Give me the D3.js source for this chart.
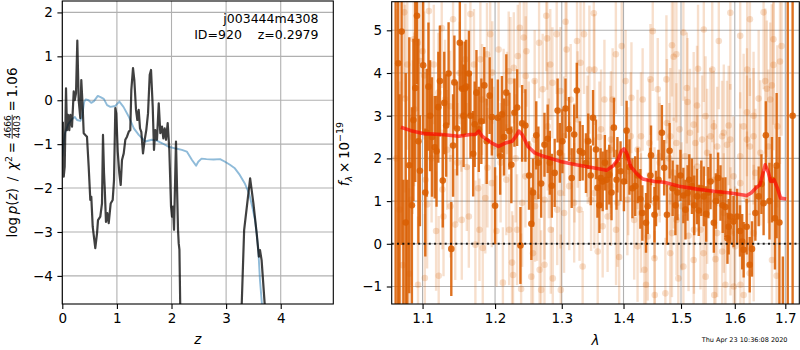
<!DOCTYPE html>
<html>
<head>
<meta charset="utf-8">
<script src="https://cdn.jsdelivr.net/npm/d3@7"></script>
<style>
  body { margin: 0; background: #fff; }
  text { font-family: "DejaVu Sans", sans-serif; fill: #000; }
</style>
</head>
<body>
<svg id="fig" width="800" height="350"></svg>
<script>
// ---------- redshift probability panel ----------
const zTicks = [0, 1, 2, 3, 4];
const lnpTicks = [-4, -3, -2, -1, 0, 1, 2];

// log p(z)
const pzZ = [0.010,0.026,0.044,0.068,0.086,0.104,0.128,0.147,0.178,0.209,
             0.227,0.251,0.275,0.300,0.330,0.348,0.373,0.392,0.421,0.452,
             0.483,0.513,0.531,0.557,0.586,0.604,0.636,0.654,0.696,0.727,
             0.745,0.764,0.776,0.800,0.824,0.850,0.886,0.923,0.947,0.971,
             0.989,1.015,1.044,1.070,1.093,1.125,1.154,1.185,1.216,1.245,
             1.264,1.295,1.319,1.350,1.374,1.399,1.423,1.447,1.478,1.509,
             1.538,1.570,1.601,1.625,1.656,1.679,1.703,1.734,1.766,1.795,
             1.826,1.850,1.875,1.899,1.930,1.960,1.991,2.009,2.027,2.046,
             2.082,2.101,2.119,2.132,2.145,2.160,2.180,3.260,3.286,3.330,
             3.380,3.440,3.500,3.560,3.600,3.620,3.650,3.710,3.750];
const pzVal = [-0.49,-1.74,-1.51,0.27,-0.68,-0.33,-0.68,-0.33,-0.60,0.20,
               0.00,0.16,1.36,0.00,-0.41,0.46,-0.15,-0.75,-0.79,-0.83,
               -1.51,-2.27,-2.20,-2.88,-3.18,-3.37,-3.03,-2.73,-2.65,-2.35,
               -0.79,-1.66,-1.97,-2.77,-2.57,-2.80,-2.35,-2.27,-1.82,-0.18,
               -0.30,-1.17,-1.66,-1.93,-1.36,-1.21,-0.90,-0.83,-0.72,-0.68,
               0.23,0.73,0.46,-0.22,-0.45,-0.22,-0.64,-0.72,-1.21,-0.90,
               -0.68,-0.30,0.58,0.69,-0.15,-1.13,-0.68,-0.90,-0.07,-0.75,
               -0.60,-0.87,-0.64,-0.90,-0.52,-1.13,-2.42,-2.65,-2.42,-2.95,
               -0.94,-1.97,-2.95,-3.26,-3.40,-4.70,-8.00,-8.00,-4.64,-2.96,
               -2.42,-1.78,-2.35,-3.03,-3.56,-3.41,-3.64,-4.70,-8.00];

// scaled chi-squared curve
const chiZ = [0.00,0.02,0.05,0.11,0.17,0.23,0.27,0.33,0.36,0.40,
              0.43,0.48,0.53,0.58,0.65,0.70,0.76,0.82,0.88,0.97,
              1.045,1.12,1.216,1.31,1.40,1.52,1.64,1.73,1.83,1.95,
              2.08,2.19,2.28,2.375,2.45,2.49,2.55,2.64,2.77,2.89,
              2.98,3.07,3.16,3.25,3.34,3.42,3.48,3.53,3.56,3.59,
              3.62,3.66,3.70];
const chiVal = [-1.28,-1.00,-0.75,-0.54,-0.44,-0.38,-0.45,-0.47,-0.38,-0.04,
                0.02,0.00,-0.06,-0.02,0.10,0.07,0.03,-0.11,-0.15,-0.13,
                -0.03,-0.15,-0.37,-0.64,-0.79,-0.94,-0.90,-0.92,-0.98,-1.06,
                -1.10,-1.13,-1.17,-1.36,-1.49,-1.40,-1.33,-1.34,-1.35,-1.34,
                -1.40,-1.47,-1.55,-1.70,-1.89,-2.12,-2.43,-2.73,-3.04,-3.42,
                -4.10,-4.70,-5.50];

// ---------- 1D spectrum panel ----------
const waveTicks = [1.1, 1.2, 1.3, 1.4, 1.5, 1.6, 1.7];
const fluxTicks = [-1, 0, 1, 2, 3, 4, 5];

// binned spectrum (wavelength in micron, flux x 1e-19, 1-sigma error)
const binWave = [1.0650,1.0683,1.0700,1.0727,1.0750,1.0780,1.0800,1.0826,1.0860,1.0880,
                 1.0904,1.0926,1.0945,1.0965,1.1008,1.1036,1.1055,1.1078,1.1100,1.1125,
                 1.1162,1.1186,1.1210,1.1232,1.1270,1.1290,1.1316,1.1349,1.1386,1.1410,
                 1.1428,1.1465,1.1503,1.1535,1.1555,1.1573,1.1591,1.1629,1.1651,1.1689,
                 1.1710,1.1735,1.1768,1.1804,1.1846,1.1880,1.1922,1.1954,1.2000,1.2040,
                 1.2074,1.2099,1.2130,1.2163,1.2208,1.2237,1.2282,1.2322,1.2371,1.2396,
                 1.2445,1.2500,1.2534,1.2559,1.2608,1.2640,1.2682,1.2733,1.2782,1.2815,
                 1.2846,1.2890,1.2935,1.2970,1.3010,1.3059,1.3114,1.3156,1.3195,1.3237,
                 1.3286,1.3330,1.3383,1.3420,1.3460,1.3497,1.3545,1.3569,1.3601,1.3620,
                 1.3654,1.3690,1.3719,1.3763,1.3800,1.3839,1.3883,1.3898,1.3950,1.4007,
                 1.4047,1.4052,1.4100,1.4150,1.4198,1.4240,1.4286,1.4320,1.4383,1.4413,
                 1.4460,1.4470,1.4530,1.4557,1.4600,1.4660,1.4700,1.4749,1.4796,1.4850,
                 1.4900,1.4936,1.4990,1.5043,1.5080,1.5118,1.5150,1.5198,1.5240,1.5291,
                 1.5323,1.5370,1.5416,1.5460,1.5500,1.5541,1.5603,1.5640,1.5683,1.5728,
                 1.5770,1.5821,1.5860,1.5883,1.5915,1.5976,1.6045,1.6100,1.6143,1.6171,
                 1.6230,1.6289,1.6334,1.6400,1.6465,1.6520,1.6563,1.6608,1.6680,1.6730,
                 1.6790,1.6824,1.6880,1.6950,1.7050,1.7150];
const binFlux = [-3.0,4.23,-2.5,4.97,-3.0,0.5,-2.0,1.84,0.9,2.9,
                 3.65,5.34,2.4,1.71,4.18,1.20,2.6,3.68,3.0,2.5,
                 2.26,2.17,3.2,3.81,1.48,3.3,2.77,3.99,-0.12,2.3,
                 3.78,2.70,4.71,3.63,3.0,3.64,3.68,3.99,3.0,2.11,
                 2.8,3.54,2.68,2.87,3.71,2.4,3.47,2.97,0.89,2.95,
                 2.05,3.03,2.5,3.54,2.64,1.85,3.07,3.19,-0.04,2.82,
                 2.77,1.60,0.47,1.20,2.54,1.9,1.41,2.32,2.46,1.9,
                 1.36,1.66,3.12,2.13,2.4,3.17,2.69,1.54,2.56,3.59,
                 2.17,2.13,1.89,2.4,1.6,2.95,2.21,1.31,0.9,1.54,
                 1.46,1.9,1.50,1.62,1.2,2.72,1.50,1.85,1.7,1.46,
                 2.05,2.65,1.8,1.3,1.35,1.6,1.05,0.72,0.49,0.88,
                 1.60,2.07,0.68,1.06,1.5,2.60,1.78,0.68,2.18,1.3,
                 0.9,1.20,1.6,1.13,0.8,1.19,1.5,1.35,0.9,1.11,
                 0.78,1.3,1.11,0.7,1.2,1.46,0.49,1.0,1.54,1.19,
                 0.9,0.86,0.13,0.40,0.64,0.52,0.64,0.3,0.05,-0.14,
                 0.4,-0.49,-0.12,0.72,1.11,1.4,0.95,2.54,1.0,1.5,
                 0.6,1.83,0.5,-1.6,-3.0,3.0];
const binErr = [9.0,6.0,6.0,5.0,4.5,3.5,3.5,3.0,2.3,1.9,
                2.2,1.6,2.4,1.3,1.6,1.5,1.5,1.5,1.3,1.4,
                1.2,1.3,1.3,1.3,1.1,1.2,1.2,1.2,1.1,1.2,
                1.1,1.1,1.1,1.1,1.2,1.1,1.1,1.0,1.0,1.0,
                1.0,1.0,1.0,1.0,0.9,1.0,0.9,0.9,0.9,0.9,
                0.9,0.9,0.9,0.9,0.9,0.9,0.8,0.9,0.9,0.9,
                0.85,0.8,0.85,0.8,0.8,0.85,0.8,0.75,0.8,0.75,
                0.75,0.8,0.75,0.7,0.75,0.7,0.75,0.7,0.7,0.65,
                0.7,0.65,0.7,0.65,0.7,0.65,0.7,0.7,0.65,0.7,
                0.7,0.65,0.7,0.7,0.65,0.7,0.7,0.65,0.7,0.7,
                0.65,0.7,0.65,0.7,0.7,0.65,0.7,0.65,0.7,0.65,
                0.65,0.7,0.65,0.65,0.7,0.65,0.65,0.7,0.65,0.65,
                0.7,0.65,0.6,0.65,0.7,0.65,0.6,0.65,0.7,0.65,
                0.6,0.65,0.7,0.65,0.6,0.65,0.7,0.65,0.6,0.65,
                0.65,0.7,0.6,0.65,0.65,0.6,0.65,0.6,0.65,0.65,
                0.65,0.65,0.65,0.65,0.7,0.7,0.75,0.8,0.9,1.0,
                1.2,1.7,2.0,1.3,9.0,10.0];

// unbinned spectrum
const rawWave = [1.0660,1.0700,1.0740,1.0761,1.0770,1.0800,1.0825,1.0848,1.0870,1.0883,
                 1.0890,1.0935,1.0940,1.0970,1.1000,1.1022,1.1030,1.1040,1.1060,1.1084,
                 1.1120,1.1150,1.1180,1.1210,1.1215,1.1256,1.1265,1.1280,1.1300,1.1330,
                 1.1370,1.1375,1.1410,1.1440,1.1470,1.1500,1.1525,1.1530,1.1580,1.1600,
                 1.1628,1.1650,1.1700,1.1720,1.1760,1.1777,1.1790,1.1815,1.1824,1.1860,
                 1.1884,1.1890,1.1930,1.1954,1.1960,1.1978,1.2020,1.2051,1.2080,1.2113,
                 1.2124,1.2163,1.2173,1.2198,1.2205,1.2223,1.2247,1.2262,1.2273,1.2300,
                 1.2321,1.2332,1.2362,1.2381,1.2396,1.2421,1.2445,1.2450,1.2460,1.2495,
                 1.2534,1.2559,1.2584,1.2620,1.2651,1.2659,1.2682,1.2706,1.2733,1.2760,
                 1.2774,1.2800,1.2822,1.2830,1.2855,1.2860,1.2921,1.2929,1.2979,1.2985,
                 1.3036,1.3060,1.3076,1.3117,1.3140,1.3200,1.3240,1.3280,1.3296,1.3330,
                 1.3351,1.3400,1.3438,1.3465,1.3510,1.3520,1.3573,1.3600,1.3654,1.3683,
                 1.3735,1.3780,1.3818,1.3872,1.3875,1.3898,1.3927,1.3970,1.4035,1.4080,
                 1.4134,1.4180,1.4238,1.4296,1.4325,1.4355,1.4383,1.4413,1.4460,1.4500,
                 1.4530,1.4535,1.4587,1.4620,1.4721,1.4740,1.4790,1.4808,1.4838,1.4868,
                 1.4870,1.4917,1.4920,1.4952,1.5043,1.5074,1.5105,1.5118,1.5136,1.5230,
                 1.5235,1.5261,1.5291,1.5295,1.5310,1.5410,1.5448,1.5450,1.5478,1.5603,
                 1.5605,1.5610,1.5634,1.5696,1.5758,1.5760,1.5821,1.5883,1.5915,1.5918,
                 1.5976,1.5980,1.6104,1.6106,1.6108,1.6171,1.6235,1.6289,1.6293,1.6365,
                 1.6367,1.6400,1.6465,1.6563,1.6596,1.6627,1.6696,1.6727,1.6730,1.6760,
                 1.6824,1.6892,1.4749,1.4808,1.4975,1.5162,1.5230,1.5385,1.5541,1.5665,
                 1.5790,1.5851,1.6171,1.6235,1.6365,1.5478,1.5790,1.6235,1.5011,1.5355,
                 1.5665,1.6007,1.4838,1.6498,1.6659,1.6838,1.2584,1.2782,1.3036,1.3250,
                 1.3412,1.3628,1.3790,1.4122,1.4238,1.4442,1.4618,1.2590,1.2733,1.2979,
                 1.3195,1.3520,1.3790,1.4065,1.4296,1.4530,1.5043,1.5416,1.5915,1.6104,
                 1.6293,1.6760,1.6924,1.4917,1.5573,1.6240];
const rawFlux = [2.0,0.8,-0.5,5.42,3.40,4.2,-0.7,1.03,2.5,4.79,
                 3.15,4.71,-0.96,4.28,4.51,3.94,-0.80,1.50,0.92,5.45,
                 2.0,4.2,0.3,3.54,-0.75,5.05,1.27,0.64,3.38,2.2,
                 3.22,0.88,5.26,0.45,1.9,4.0,2.99,0.56,4.32,1.8,
                 0.64,5.38,4.20,-0.02,1.3,0.33,4.32,3.38,-0.10,1.07,
                 4.44,1.78,4.91,1.42,4.01,2.28,0.3,4.55,1.9,-0.91,
                 3.07,1.50,3.30,4.04,0.33,3.81,-0.44,-0.73,4.12,2.0,
                 0.33,4.40,5.06,-1.06,0.96,4.83,1.58,3.93,4.51,2.30,
                 -0.77,-0.22,3.81,1.1,4.71,-0.61,-1.08,3.62,-0.49,5.34,
                 4.81,2.0,4.20,0.33,3.77,-0.81,4.91,0.80,3.58,-1.08,
                 0.72,5.2,4.55,1.35,3.38,1.9,4.75,0.80,4.24,-0.53,
                 4.91,2.4,4.08,1.03,5.4,4.08,-0.18,2.5,0.41,3.38,
                 0.64,2.2,3.38,4.44,0.33,0.96,-0.31,4.63,3.81,1.7,
                 3.42,0.56,-0.06,2.52,3.38,-0.61,-0.96,0.17,3.85,4.98,
                 -0.34,-1.20,3.62,1.9,-1.16,3.85,2.0,-0.22,4.65,4.38,
                 1.66,2.36,0.56,-0.81,-0.53,2.05,3.65,3.32,0.19,-0.38,
                 0.33,2.36,3.24,1.81,4.10,-0.22,2.99,-0.77,2.13,2.75,
                 1.50,-1.20,-0.36,4.75,2.52,-0.18,-0.96,2.77,2.44,0.29,
                 1.58,-1.0,2.05,1.42,-0.96,-1.20,3.08,-0.69,2.28,3.0,
                 0.25,1.66,3.40,5.42,3.81,3.63,3.38,3.71,-0.38,4.19,
                 -0.75,4.27,2.83,2.52,2.68,2.60,2.79,2.44,2.52,2.28,
                 2.60,2.32,2.75,2.44,2.52,1.03,0.72,1.03,0.88,0.33,
                 0.25,-0.06,0.25,2.13,2.28,2.75,2.44,2.75,2.52,2.91,
                 2.44,2.68,2.44,2.52,2.21,2.36,2.05,0.88,1.03,1.19,
                 0.96,1.19,1.35,1.03,0.72,0.96,4.95,5.02,5.41,4.87,
                 5.26,4.79,4.63,4.44,4.08,4.08];
const rawErr = [3.5,3.0,2.5,2.0,2.2,2.0,2.0,2.0,1.8,1.8,
                1.8,1.6,1.6,1.6,1.5,1.5,1.5,1.5,1.5,1.5,
                1.5,1.4,1.4,1.4,1.4,1.4,1.4,1.4,1.4,1.4,
                1.3,1.2,1.5,1.3,1.4,1.2,1.3,1.4,1.3,1.5,
                1.2,1.4,1.3,1.5,1.3,1.2,1.4,1.3,1.5,1.3,
                1.2,1.4,1.3,1.5,1.2,1.4,1.3,1.2,1.4,1.3,
                1.5,1.3,1.2,1.4,1.3,1.5,1.2,1.4,1.3,1.5,
                1.3,1.2,1.4,1.3,1.5,1.3,1.2,1.4,1.3,1.5,
                1.3,1.4,1.2,1.5,1.3,1.2,1.4,1.3,1.5,1.3,
                1.2,1.4,1.3,1.5,1.3,1.2,1.4,1.3,1.5,1.3,
                1.4,1.3,1.2,1.5,1.3,1.4,1.3,1.2,1.5,1.3,
                1.4,1.3,1.5,1.2,1.4,1.3,1.5,1.3,1.2,1.4,
                1.3,1.5,1.2,1.4,1.3,1.5,1.3,1.4,1.2,1.5,
                1.3,1.4,1.3,1.5,1.2,1.4,1.3,1.5,1.3,1.4,
                1.3,1.5,1.2,1.4,1.3,1.5,1.3,1.4,1.2,1.5,
                1.3,1.4,1.3,1.5,1.2,1.4,1.3,1.5,1.3,1.4,
                1.5,1.3,1.4,1.2,1.5,1.3,1.4,1.3,1.5,1.3,
                1.4,1.3,1.5,1.6,1.3,1.4,1.5,1.4,1.3,1.5,
                1.4,1.3,1.5,1.4,1.6,1.3,1.5,1.4,1.6,1.5,
                1.6,1.5,1.6,1.8,1.7,1.6,1.8,1.9,1.8,2.0,
                2.2,2.4,1.5,1.6,1.4,1.5,1.7,1.5,1.6,1.4,
                1.6,1.5,1.7,1.5,1.6,1.5,1.4,1.6,1.5,1.4,
                1.5,1.4,1.5,1.7,1.8,1.9,1.4,1.5,1.4,1.6,
                1.5,1.4,1.6,1.5,1.4,1.5,1.4,1.3,1.4,1.3,
                1.4,1.3,1.4,1.3,1.4,1.3,1.6,1.7,1.8,1.7,
                1.8,2.0,2.1,1.6,1.7,1.8];

// best-fit template
const modelWave = [1.0718,1.0848,1.1022,1.1256,1.1489,1.1651,1.1720,1.1768,1.1815,1.1884,
                   1.1954,1.2050,1.2148,1.2247,1.2306,1.2347,1.2396,1.2484,1.2584,1.2682,
                   1.2979,1.3227,1.3497,1.3719,1.3828,1.3909,1.3963,1.4007,1.4052,1.4122,
                   1.4238,1.4325,1.4530,1.4698,1.4965,1.5291,1.5603,1.5915,1.6226,1.6317,
                   1.6412,1.6490,1.6543,1.6596,1.6661,1.6706,1.6772,1.6838,1.6904,1.7017];
const modelFlux = [2.73,2.65,2.58,2.56,2.52,2.56,2.56,2.64,2.52,2.44,
                   2.36,2.28,2.36,2.40,2.52,2.64,2.56,2.28,2.13,2.07,
                   1.93,1.85,1.78,1.72,1.83,1.97,2.17,2.22,2.13,1.81,
                   1.62,1.52,1.46,1.44,1.35,1.28,1.23,1.19,1.13,1.19,
                   1.31,1.38,1.62,1.85,1.66,1.46,1.50,1.31,1.07,1.05];

const binned = binWave.map((w, i) => ({w, f: binFlux[i], e: binErr[i]}));
const unbinned = rawWave.map((w, i) => ({w, f: rawFlux[i], e: rawErr[i]}));
const model = modelWave.map((w, i) => ({w, f: modelFlux[i]}));
const pz = pzZ.map((z, i) => ({z, v: pzVal[i]}));
const chi = chiZ.map((z, i) => ({z, v: chiVal[i]}));

const svg = d3.select("#fig");
const FS = 13.5;
const ORANGE = "#d95f02";
const GRID = "#b0b0b0";

// ---------- scales ----------
const xz = d3.scaleLinear().domain([0, 4.963]).range([62.3, 333.3]);
const yz = d3.scaleLinear().domain([-4.64, 2.26]).range([304, 1]);
const xw = d3.scaleLog().domain([1.060, 1.7288]).range([391.7, 799.3]);
const yf = d3.scaleLinear().domain([-1.41, 5.67]).range([304, 1.7]);

function clip(id, x, y) {
  svg.append("clipPath").attr("id", id).append("rect")
    .attr("x", x.range()[0]).attr("y", y.range()[1])
    .attr("width", x.range()[1] - x.range()[0])
    .attr("height", y.range()[0] - y.range()[1]);
}
clip("clipL", xz, yz);
clip("clipR", xw, yf);

function grid(x, y, xt, yt) {
  const g = svg.append("g").attr("stroke", GRID).attr("stroke-width", 1.1);
  g.selectAll(".gx").data(xt).join("line")
    .attr("x1", d => x(d)).attr("x2", d => x(d))
    .attr("y1", y.range()[0]).attr("y2", y.range()[1]);
  g.selectAll(".gy").data(yt).join("line")
    .attr("y1", d => y(d)).attr("y2", d => y(d))
    .attr("x1", x.range()[0]).attr("x2", x.range()[1]);
}

function axes(x, y, xt, yt, xfmt) {
  const fmtNum = d => (d < 0 ? "\u2212" + Math.abs(d) : String(d));
  const gx = svg.append("g").attr("transform", `translate(0,${y.range()[0]})`)
    .call(d3.axisBottom(x).tickValues(xt).tickSize(4.9).tickPadding(4.6)
      .tickFormat(xfmt || fmtNum));
  const gy = svg.append("g").attr("transform", `translate(${x.range()[0]},0)`)
    .call(d3.axisLeft(y).tickValues(yt).tickSize(4.9).tickPadding(4.6).tickFormat(fmtNum));
  [gx, gy].forEach(g => {
    g.select(".domain").remove();
    g.selectAll(".tick line").attr("stroke", "#000").attr("stroke-width", 1.1);
    g.selectAll(".tick text").attr("font-size", FS).attr("font-family", "DejaVu Sans")
      .attr("fill", "#000");
  });
  svg.append("rect")
    .attr("x", x.range()[0]).attr("y", y.range()[1])
    .attr("width", x.range()[1] - x.range()[0])
    .attr("height", y.range()[0] - y.range()[1])
    .attr("fill", "none").attr("stroke", "#000").attr("stroke-width", 1.1);
}

// ---------- left panel ----------
grid(xz, yz, zTicks, lnpTicks);
const gL = svg.append("g").attr("clip-path", "url(#clipL)");
const lineZ = d3.line().x(d => xz(d.z)).y(d => yz(d.v));
gL.append("path").datum(chi).attr("d", lineZ)
  .attr("fill", "none").attr("stroke", "#1f77b4").attr("stroke-opacity", 0.5)
  .attr("stroke-width", 1.9).attr("stroke-linejoin", "round");
gL.append("path").datum(pz).attr("d", lineZ)
  .attr("fill", "none").attr("stroke", "#000").attr("stroke-opacity", 0.75)
  .attr("stroke-width", 2.2).attr("stroke-linejoin", "round");
axes(xz, yz, zTicks, lnpTicks);

svg.append("text").attr("x", 318.5).attr("y", 23).attr("text-anchor", "end")
  .attr("font-size", 12.5).text("j003444m4308");
svg.append("text").attr("x", 318.5).attr("y", 38.5).attr("text-anchor", "end")
  .attr("font-size", 12.5).style("white-space", "pre").text("ID=920    z=0.2979");

// x label
svg.append("text").attr("x", 197.8).attr("y", 344).attr("text-anchor", "middle")
  .attr("font-size", FS).attr("font-style", "italic").text("z");

// y label: log p(z) / chi^2 = 4666/4403 = 1.06
{
  const g = svg.append("g").attr("transform", "translate(17,152.5) rotate(-90)");
  const inner = g.append("g");
  const t1 = inner.append("text").attr("font-size", FS);
  t1.append("tspan").text("log\u2009");
  t1.append("tspan").attr("font-style", "italic").text("p");
  t1.append("tspan").text("(");
  t1.append("tspan").attr("font-style", "italic").text("z");
  t1.append("tspan").text(")\u2002/\u2002");
  t1.append("tspan").attr("font-style", "italic").text("\u03c7");
  t1.append("tspan").attr("font-size", 9.5).attr("dy", -5.5).text("2");
  t1.append("tspan").attr("dy", 5.5).text("\u2009=\u2009");
  const w1 = t1.node().getComputedTextLength();
  const num = inner.append("text").attr("font-size", 9).attr("y", -6.5).attr("text-anchor", "middle").text("4666");
  const den = inner.append("text").attr("font-size", 9).attr("y", 2.8).attr("text-anchor", "middle").text("4403");
  const fw = Math.max(num.node().getComputedTextLength(), den.node().getComputedTextLength()) + 2;
  num.attr("x", w1 + fw / 2);
  den.attr("x", w1 + fw / 2);
  inner.append("line").attr("x1", w1 + 0.5).attr("x2", w1 + fw - 0.5)
    .attr("y1", -4.8).attr("y2", -4.8).attr("stroke", "#000").attr("stroke-width", 0.8);
  const t3 = inner.append("text").attr("font-size", FS).attr("x", w1 + fw).text("\u2009=\u20091.06");
  const total = w1 + fw + t3.node().getComputedTextLength();
  inner.attr("transform", `translate(${-total / 2},0)`);
}

// ---------- right panel ----------
grid(xw, yf, waveTicks, fluxTicks);
const gR = svg.append("g").attr("clip-path", "url(#clipR)");

function errPoints(g, data, op) {
  g.append("g").selectAll("line").data(data).join("line")
    .attr("x1", d => xw(d.w)).attr("x2", d => xw(d.w))
    .attr("y1", d => yf(d.f - d.e)).attr("y2", d => yf(d.f + d.e))
    .attr("stroke", ORANGE).attr("stroke-opacity", op).attr("stroke-width", 2.4);
  g.append("g").selectAll("circle").data(data).join("circle")
    .attr("cx", d => xw(d.w)).attr("cy", d => yf(d.f)).attr("r", 3.3)
    .attr("fill", ORANGE).attr("fill-opacity", op);
}
errPoints(gR, unbinned, 0.2);
errPoints(gR, binned, 0.88);

gR.append("path").datum(model)
  .attr("d", d3.line().x(d => xw(d.w)).y(d => yf(d.f)))
  .attr("fill", "none").attr("stroke", "#ff0000").attr("stroke-opacity", 0.65)
  .attr("stroke-width", 3.6).attr("stroke-linejoin", "round");

gR.append("line").attr("x1", xw.range()[0]).attr("x2", xw.range()[1])
  .attr("y1", yf(0)).attr("y2", yf(0))
  .attr("stroke", "#000").attr("stroke-opacity", 0.85).attr("stroke-width", 2)
  .attr("stroke-dasharray", "2,3.3");

axes(xw, yf, waveTicks, fluxTicks, d3.format(".1f"));

svg.append("text").attr("x", 595.5).attr("y", 345).attr("text-anchor", "middle")
  .attr("font-size", FS).attr("font-style", "italic").text("\u03bb");

{
  const g = svg.append("g").attr("transform", "translate(348.5,154) rotate(-90)");
  const t = g.append("text").attr("font-size", FS).attr("text-anchor", "middle");
  t.append("tspan").attr("font-style", "italic").text("f");
  t.append("tspan").attr("font-style", "italic").attr("font-size", 9.5).attr("dy", 3).text("\u03bb");
  t.append("tspan").attr("dy", -3).text("\u2009\u00d7\u200910");
  t.append("tspan").attr("font-size", 9.5).attr("dy", -5.5).text("\u221219");
}

svg.append("text").attr("x", 787.5).attr("y", 342).attr("text-anchor", "end")
  .attr("font-size", 6.5).text("Thu Apr 23 10:36:08 2020");
</script>
</body>
</html>
